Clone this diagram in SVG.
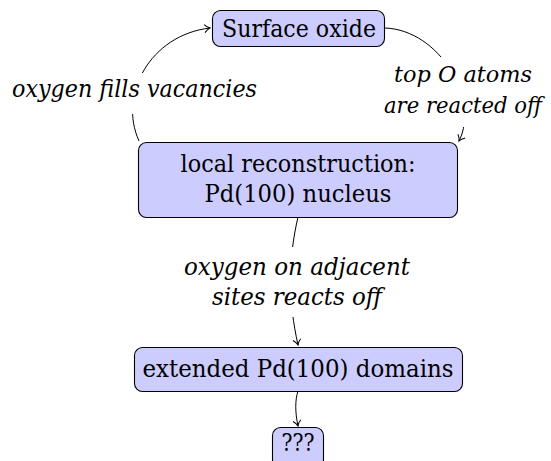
<svg xmlns="http://www.w3.org/2000/svg" width="551" height="461" viewBox="0 0 551 461">
<style>
.box{fill:#ccccff;stroke:#000;stroke-width:1.1}
text{font-family:'DejaVu Serif','Liberation Serif',serif;font-size:24px;fill:#000;text-anchor:middle}
.lbl{font-style:italic}
.sm{font-size:22px}
.edge{fill:none;stroke:#000;stroke-width:1;marker-end:url(#arr)}
.mask{fill:#fff;stroke:none}
</style>
<defs>
<marker id="arr" markerUnits="userSpaceOnUse" orient="auto" refX="0" refY="0" markerWidth="12" markerHeight="12" viewBox="-7 -6 8 12" overflow="visible">
<path d="M-5.5,-4 C-3.5,-1.6 -1.2,-0.4 0,0 C-1.2,0.4 -3.5,1.6 -5.5,4" fill="none" stroke="#000" stroke-width="1"/>
</marker>
</defs>
<g id="connectors">
<path class="edge" d="M139,141 C118,95 150,35 210,28"/>
<path class="edge" d="M385,28 C440,30 480,100 459,141"/>
<path class="edge" d="M298,217 C288,260 288,300 298,345"/>
<path class="edge" d="M298,391 C295,400 295,412 298,426"/>
</g>
<g id="labels">
<rect class="mask" x="6" y="73" width="258" height="41"/>
<text class="lbl" x="134.5" y="97" textLength="245" lengthAdjust="spacingAndGlyphs">oxygen fills vacancies</text>
<rect class="mask" x="378" y="57" width="173" height="70"/>
<text class="lbl sm" x="463" y="82" textLength="138" lengthAdjust="spacingAndGlyphs">top O atoms</text>
<text class="lbl sm" x="463" y="113" textLength="158" lengthAdjust="spacingAndGlyphs">are reacted off</text>
<rect class="mask" x="180" y="247" width="235" height="70"/>
<text class="lbl" x="297" y="275" textLength="226" lengthAdjust="spacingAndGlyphs">oxygen on adjacent</text>
<text class="lbl" x="297" y="305" textLength="170" lengthAdjust="spacingAndGlyphs">sites reacts off</text>
</g>
<g id="surface-oxide">
<rect class="box" x="212.5" y="10.5" width="172" height="36" rx="8"/>
<text x="299" y="37" textLength="154" lengthAdjust="spacingAndGlyphs">Surface oxide</text>
</g>
<g id="local-reconstruction">
<rect class="box" x="138.5" y="142.5" width="319" height="75" rx="8"/>
<text x="298" y="172" textLength="235" lengthAdjust="spacingAndGlyphs">local reconstruction:</text>
<text x="298" y="202" textLength="187" lengthAdjust="spacingAndGlyphs">Pd(100) nucleus</text>
</g>
<g id="extended-domains">
<rect class="box" x="134.5" y="347.5" width="328" height="44" rx="8"/>
<text x="298" y="377" textLength="311" lengthAdjust="spacingAndGlyphs">extended Pd(100) domains</text>
</g>
<g id="unknown">
<rect class="box" x="272.5" y="427.5" width="51" height="40" rx="8"/>
<text x="298" y="451" textLength="33" lengthAdjust="spacingAndGlyphs">???</text>
</g>
</svg>
